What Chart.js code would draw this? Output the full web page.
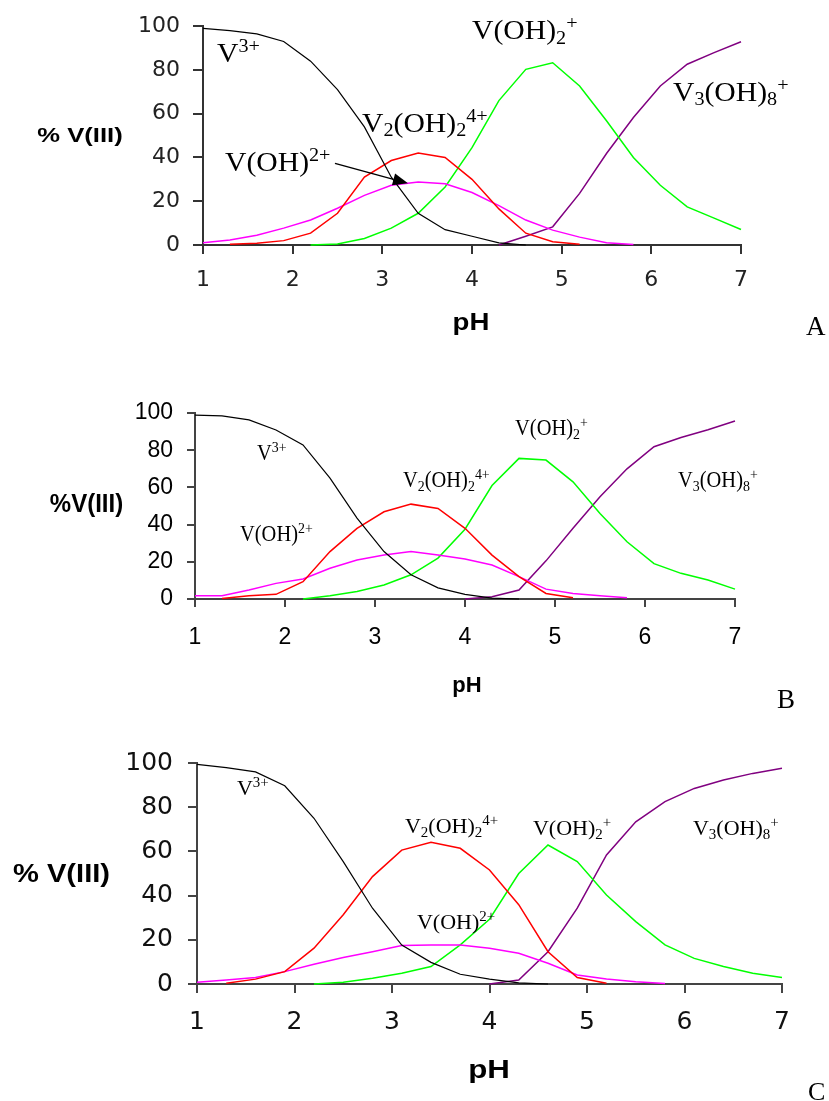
<!DOCTYPE html>
<html>
<head>
<meta charset="utf-8">
<script src="https://cdn.jsdelivr.net/npm/chart.js@4.4.1/dist/chart.umd.min.js"></script>
<style>
html,body{margin:0;padding:0;background:#fff;}
#wrap{position:relative;width:829px;height:1101px;overflow:hidden;}
canvas{position:absolute;left:0;}
</style>
</head>
<body>
<div id="wrap">
<canvas id="cA" width="829" height="345" style="top:0px"></canvas>
<canvas id="cB" width="829" height="375" style="top:345px"></canvas>
<canvas id="cC" width="829" height="381" style="top:720px"></canvas>
</div>
<script>
// ---------- data ----------
const pH = [1.0, 1.3, 1.6, 1.9, 2.2, 2.5, 2.8, 3.1, 3.4, 3.7, 4.0, 4.3, 4.6, 4.9, 5.2, 5.5, 5.8, 6.1, 6.4, 6.7, 7.0];
const xTicks = [1, 2, 3, 4, 5, 6, 7];
const yTicks = [0, 20, 40, 60, 80, 100];
const N = null;

// Panel A
const A_V3      = [99, 98, 96.5, 93, 84, 71, 54, 31, 14.5, 7, 4, 1, 0, N, N, N, N, N, N, N, N];
const A_V2OH2   = [N, 0.3, 0.8, 2, 5.4, 14.5, 31, 38.6, 42, 40, 30, 16.5, 5.4, 1.5, 0.3, N, N, N, N, N, N];
const A_VOH     = [1, 2.3, 4.5, 7.7, 11.4, 16.8, 22.7, 27.3, 28.8, 28, 24, 18, 11.4, 6.8, 3.6, 1, 0.2, N, N, N, N];
const A_VOH2    = [N, N, N, N, 0, 0.5, 3, 7.7, 14.5, 26.5, 44.5, 66, 80.3, 83.3, 72.7, 56.8, 40, 27.3, 17.4, 12.3, 7.1];
const A_V3OH8   = [N, N, N, N, N, N, N, N, N, N, N, 0, 4, 8.3, 23.6, 41.8, 58.3, 72.7, 82.6, 87.9, 92.9];

// Panel B
const B_V3      = [98.9, 98.5, 96.3, 90.9, 82.8, 65, 43.5, 25.5, 13, 6, 2.5, 0.5, 0, N, N, N, N, N, N, N, N];
const B_V2OH2   = [N, 0.3, 1.8, 2.5, 9.3, 25.5, 38, 46.9, 51, 48.7, 38, 23.6, 12, 3, 0.7, N, N, N, N, N, N];
const B_VOH     = [1.8, 1.8, 4.8, 8.4, 10.8, 16.5, 21, 23.6, 25.5, 23.6, 21.5, 18.3, 12, 5.3, 3, 1.8, 0.7, N, N, N, N];
const B_VOH2    = [N, N, N, N, 0, 1.8, 4, 7.5, 13, 22, 37.5, 61, 75.6, 74.7, 63, 46, 30.8, 19, 13.8, 10.2, 5.3];
const B_V3OH8   = [N, N, N, N, N, N, N, N, N, N, 0, 1.2, 4.8, 20.5, 38, 55, 70, 81.9, 86.8, 91, 95.7];

// Panel C
const C_V3      = [99.4, 97.9, 96, 89.7, 75, 55.4, 34.3, 17.6, 9.8, 4.4, 2.2, 0.5, 0, N, N, N, N, N, N, N, N];
const C_V2OH2   = [N, 0.3, 2.2, 5.6, 16.2, 31.3, 48.6, 60.6, 64.1, 61.4, 51.6, 35.9, 14.6, 2.9, 0.3, N, N, N, N, N, N];
const C_VOH     = [0.8, 1.8, 2.9, 5.6, 8.9, 12, 14.6, 17.4, 17.7, 17.7, 16.2, 13.9, 9.4, 4.1, 2.3, 1.0, 0.2, N, N, N, N];
const C_VOH2    = [N, N, N, N, 0, 0.8, 2.6, 4.9, 7.9, 17.7, 29.3, 50, 62.9, 55.4, 40.3, 28.2, 17.7, 11.6, 7.9, 4.9, 2.9];
const C_V3OH8   = [N, N, N, N, N, N, N, N, N, N, 0, 1.8, 14.6, 34.3, 58.4, 73.4, 82.5, 88.5, 92.3, 95.3, 97.6];

// ---------- label texts ----------
const L_V3    = [{t:'V'},{t:'3+',s:'sup'}];
const L_V2OH2 = [{t:'V'},{t:'2',s:'sub'},{t:'(OH)'},{t:'2',s:'sub'},{t:'4+',s:'sup'}];
const L_VOH   = [{t:'V(OH)'},{t:'2+',s:'sup'}];
const L_VOH2  = [{t:'V(OH)'},{t:'2',s:'sub'},{t:'+',s:'sup'}];
const L_V3OH8 = [{t:'V'},{t:'3',s:'sub'},{t:'(OH)'},{t:'8',s:'sub'},{t:'+',s:'sup'}];

const COLORS = {v3:'#000000', v2:'#ff0000', voh:'#ff00ff', voh2:'#00ff00', v3oh8:'#800080'};
const SERIF = '"Liberation Serif", "Times New Roman", serif';
const SANS = '"Liberation Sans", Arial, sans-serif';

function drawRich(ctx, runs, x, y, size, sx) {
  ctx.save();
  ctx.translate(x, y);
  ctx.scale(sx, 1);
  let cx = 0;
  for (const r of runs) {
    let fs = size, dy = 0;
    if (r.s === 'sub') { fs = size * 0.68; dy = size * 0.16; }
    else if (r.s === 'sup') { fs = size * 0.68; dy = -size * 0.36; }
    ctx.font = fs + 'px ' + SERIF;
    ctx.fillText(r.t, cx, dy);
    cx += ctx.measureText(r.t).width;
  }
  ctx.restore();
}

function drawTitle(ctx, T) {
  ctx.save();
  ctx.font = T.font;
  const w = ctx.measureText(T.text).width * T.sx;
  const x0 = (T.left !== undefined) ? T.left : T.cx - w / 2;
  ctx.translate(x0, T.y);
  ctx.scale(T.sx, 1);
  ctx.fillText(T.text, 0, 0);
  ctx.restore();
}

function annotPlugin(spec) {
  return {
    id: 'annot',
    afterDraw(chart) {
      const c = chart.ctx, xs = chart.scales.x, ys = chart.scales.y;
      c.save();
      c.fillStyle = '#000';
      c.textAlign = 'left';
      c.textBaseline = 'alphabetic';
      for (const L of spec.labels) {
        drawRich(c, L.runs, xs.getPixelForValue(L.at[0]), ys.getPixelForValue(L.at[1]), spec.labelSize, spec.labelSx);
      }
      if (spec.arrow) {
        const x1 = xs.getPixelForValue(spec.arrow.from[0]), y1 = ys.getPixelForValue(spec.arrow.from[1]);
        const x2 = xs.getPixelForValue(spec.arrow.to[0]), y2 = ys.getPixelForValue(spec.arrow.to[1]);
        const ang = Math.atan2(y2 - y1, x2 - x1);
        const hl = 15, hw = 6;
        const bx = x2 - hl * Math.cos(ang), by = y2 - hl * Math.sin(ang);
        c.strokeStyle = '#000';
        c.lineWidth = 1.5;
        c.beginPath(); c.moveTo(x1, y1); c.lineTo(bx, by); c.stroke();
        c.beginPath();
        c.moveTo(x2, y2);
        c.lineTo(bx + hw * Math.sin(ang), by - hw * Math.cos(ang));
        c.lineTo(bx - hw * Math.sin(ang), by + hw * Math.cos(ang));
        c.closePath(); c.fill();
      }
      for (const T of spec.titles) drawTitle(c, T);
      c.restore();
    }
  };
}

function build(id, spec) {
  const mk = (vals, color, w) => ({
    data: pH.map((x, i) => ({x: x, y: vals[i]})),
    borderColor: color, borderWidth: w, pointRadius: 0, tension: 0,
    fill: false, clip: false, spanGaps: false
  });
  return new Chart(document.getElementById(id), {
    type: 'line',
    data: { datasets: [
      mk(spec.series[0], COLORS.v3, 1.2),
      mk(spec.series[1], COLORS.v2, 1.5),
      mk(spec.series[2], COLORS.voh, 1.5),
      mk(spec.series[3], COLORS.voh2, 1.5),
      mk(spec.series[4], COLORS.v3oh8, 1.5)
    ]},
    options: {
      responsive: false, animation: false, events: [],
      layout: { padding: { left: 0, right: spec.padRight, top: spec.padTop, bottom: 0 } },
      plugins: { legend: { display: false }, tooltip: { enabled: false }, title: { display: false } },
      scales: {
        x: {
          type: 'linear', min: 1, max: 7,
          afterBuildTicks: s => { s.ticks = xTicks.map(v => ({value: v})); },
          afterFit: s => { s.height = spec.xH; },
          grid: { drawOnChartArea: false, drawTicks: true, tickLength: spec.xTL, color: spec.axisColor, lineWidth: 2 },
          border: { display: true, color: spec.axisColor, width: 2 },
          ticks: { font: { family: spec.tickFamily, size: spec.tickSize }, color: spec.tickColor, padding: spec.xPad, maxRotation: 0, autoSkip: false }
        },
        y: {
          type: 'linear', min: 0, max: 100,
          afterBuildTicks: s => { s.ticks = yTicks.map(v => ({value: v})); },
          afterFit: s => { s.width = spec.yW; },
          grid: { drawOnChartArea: false, drawTicks: true, tickLength: spec.yTL, color: spec.axisColor, lineWidth: 2 },
          border: { display: true, color: spec.axisColor, width: 2 },
          ticks: { font: { family: spec.tickFamily, size: spec.tickSize }, color: spec.tickColor, padding: spec.yPad }
        }
      }
    },
    plugins: [annotPlugin(spec)]
  });
}

build('cA', {
  series: [A_V3, A_V2OH2, A_VOH, A_VOH2, A_V3OH8],
  padRight: 88, padTop: 25, xH: 100, yW: 203,
  xTL: 9, yTL: 10, xPad: 13, yPad: 13,
  axisColor: '#333', tickFamily: '"DejaVu Sans", sans-serif', tickSize: 22, tickColor: '#222',
  labelSize: 28, labelSx: 1.06,
  labels: [
    {runs: L_V3, at: [1.156, 83.6]},
    {runs: L_V2OH2, at: [2.773, 51.8]},
    {runs: L_VOH, at: [1.245, 33.6]},
    {runs: L_VOH2, at: [4.0, 94.1]},
    {runs: L_V3OH8, at: [6.241, 65.9]}
  ],
  arrow: {from: [2.472, 37.3], to: [3.286, 28.2]},
  titles: [
    {text: '% V(III)', font: 'bold 21px ' + SANS, sx: 1.22, cx: 80, y: 142},
    {text: 'pH', font: 'bold 24px ' + SANS, sx: 1.15, cx: 471, y: 330},
    {text: 'A', font: '27px ' + SERIF, sx: 1, left: 806, y: 335}
  ]
});

build('cB', {
  series: [B_V3, B_V2OH2, B_VOH, B_VOH2, B_V3OH8],
  padRight: 94, padTop: 68, xH: 121, yW: 195,
  xTL: 8, yTL: 8, xPad: 17, yPad: 14,
  axisColor: '#444', tickFamily: SANS, tickSize: 23, tickColor: '#000',
  labelSize: 23, labelSx: 0.89,
  labels: [
    {runs: L_VOH2, at: [4.556, 88.2]},
    {runs: L_V2OH2, at: [3.311, 60.2]},
    {runs: L_V3, at: [1.689, 74.7]},
    {runs: L_VOH, at: [1.5, 31.2]},
    {runs: L_V3OH8, at: [6.367, 60.2]}
  ],
  titles: [
    {text: '%V(III)', font: 'bold 25px ' + SANS, sx: 0.96, cx: 86.5, y: 167},
    {text: 'pH', font: 'bold 22px ' + SANS, sx: 1, cx: 467, y: 347},
    {text: 'B', font: '27px ' + SERIF, sx: 1, left: 777, y: 363}
  ]
});

build('cC', {
  series: [C_V3, C_V2OH2, C_VOH, C_VOH2, C_V3OH8],
  padRight: 47, padTop: 43, xH: 117, yW: 197,
  xTL: 9, yTL: 9, xPad: 14, yPad: 15,
  axisColor: '#444', tickFamily: '"DejaVu Sans", sans-serif', tickSize: 25, tickColor: '#111',
  labelSize: 22, labelSx: 1,
  labels: [
    {runs: L_V3, at: [1.41, 85.5]},
    {runs: L_V2OH2, at: [3.133, 68.3]},
    {runs: L_VOH2, at: [4.446, 67.4]},
    {runs: L_V3OH8, at: [6.087, 67.4]},
    {runs: L_VOH, at: [3.256, 24.9]}
  ],
  titles: [
    {text: '% V(III)', font: 'bold 26px ' + SANS, sx: 1.12, cx: 61.5, y: 162},
    {text: 'pH', font: 'bold 25px ' + SANS, sx: 1.25, cx: 489, y: 358},
    {text: 'C', font: '26px ' + SERIF, sx: 1, left: 808, y: 380}
  ]
});
</script>
</body>
</html>
